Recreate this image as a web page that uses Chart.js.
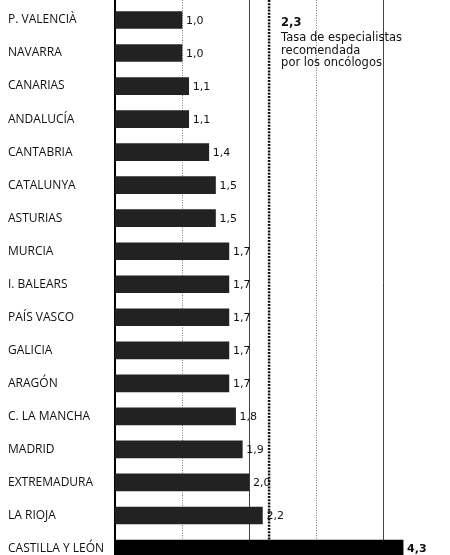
<!DOCTYPE html>
<html>
<head>
<meta charset="utf-8">
<script src="https://cdn.jsdelivr.net/npm/chart.js@4/dist/chart.umd.min.js"></script>
<style>
html,body{margin:0;padding:0;background:#fff;overflow:hidden;}
#wrap{width:450px;height:565px;position:relative;}
</style>
</head>
<body>
<div id="wrap"><canvas id="c"></canvas></div>
<script>
const regions = ["P. VALENCIÀ","NAVARRA","CANARIAS","ANDALUCÍA","CANTABRIA","CATALUNYA","ASTURIAS","MURCIA","I. BALEARS","PAÍS VASCO","GALICIA","ARAGÓN","C. LA MANCHA","MADRID","EXTREMADURA","LA RIOJA","CASTILLA Y LEÓN"];
const rates = [1.0,1.0,1.1,1.1,1.4,1.5,1.5,1.7,1.7,1.7,1.7,1.7,1.8,1.9,2.0,2.2,4.3];
const gridValues = [1,2,3,4];
const recommendedRate = 2.3;
const noteLines = ["Tasa de especialistas","recomendada","por los oncólogos"];

const fmt = v => v.toFixed(1).replace('.', ',');
const lastIdx = rates.length - 1;

const linesPlugin = {
  id:'vlines',
  beforeDatasetsDraw(chart){
    const {ctx, scales:{x}} = chart;
    const h = chart.height;
    ctx.save();
    gridValues.forEach((v)=>{
      const px = Math.round(x.getPixelForValue(v)) + 0.5;
      ctx.beginPath();
      if (v % 2 === 1) { ctx.setLineDash([1,1.5]); ctx.strokeStyle='#777'; ctx.lineWidth=1; }
      else { ctx.setLineDash([]); ctx.strokeStyle='#444'; ctx.lineWidth=1; }
      ctx.moveTo(px,0); ctx.lineTo(px,h); ctx.stroke();
    });
    const rx = x.getPixelForValue(recommendedRate);
    ctx.setLineDash([2,1.2]);
    ctx.strokeStyle='#111'; ctx.lineWidth=2.5;
    ctx.beginPath(); ctx.moveTo(rx,0); ctx.lineTo(rx,h); ctx.stroke();
    const ax = x.getPixelForValue(0);
    ctx.setLineDash([]);
    ctx.strokeStyle='#000'; ctx.lineWidth=2;
    ctx.beginPath(); ctx.moveTo(ax,0); ctx.lineTo(ax,h); ctx.stroke();
    ctx.restore();
  },
  afterDatasetsDraw(chart){
    const {ctx, scales:{x}} = chart;
    const meta = chart.getDatasetMeta(0);
    ctx.save();
    ctx.textBaseline='middle';
    ctx.textAlign='left';
    meta.data.forEach((bar,i)=>{
      ctx.fillStyle='#111';
      ctx.font = (i===lastIdx ? 'bold ' : '') + '11px "DejaVu Sans"';
      ctx.fillText(fmt(rates[i]), bar.x + 4, bar.y + 1);
    });
    const rx = x.getPixelForValue(recommendedRate) + 12;
    ctx.textBaseline='alphabetic';
    ctx.font='bold 11.5px "DejaVu Sans"';
    ctx.fillText(fmt(recommendedRate), rx, 26);
    ctx.font='11.5px "DejaVu Sans"';
    noteLines.forEach((t,i)=> ctx.fillText(t, rx, 41 + i*12.5));
    ctx.restore();
  }
};

new Chart(document.getElementById('c'), {
  type:'bar',
  data:{
    labels: regions,
    datasets:[{
      data: rates,
      backgroundColor: rates.map((v,i)=> i===lastIdx ? '#000' : '#222'),
      barThickness: 17,
      borderWidth: 0
    }]
  },
  options:{
    indexAxis:'y',
    responsive:true,
    maintainAspectRatio:false,
    animation:false,
    layout:{padding:{left:8,right:0,top:3.5,bottom:0}},
    plugins:{legend:{display:false}, tooltip:{enabled:false}},
    scales:{
      x:{ display:false, min:0, max:5 },
      y:{
        grid:{display:false, drawTicks:false},
        border:{display:false},
        afterFit(s){ s.width = 107; s.paddingTop = 0; s.paddingBottom = 0; },
        ticks:{
          autoSkip:false,
          crossAlign:'far',
          padding:0,
          color:'#111',
          font:{family:'"Open Sans"', size:12}
        }
      }
    }
  },
  plugins:[linesPlugin]
});
</script>
</body>
</html>
